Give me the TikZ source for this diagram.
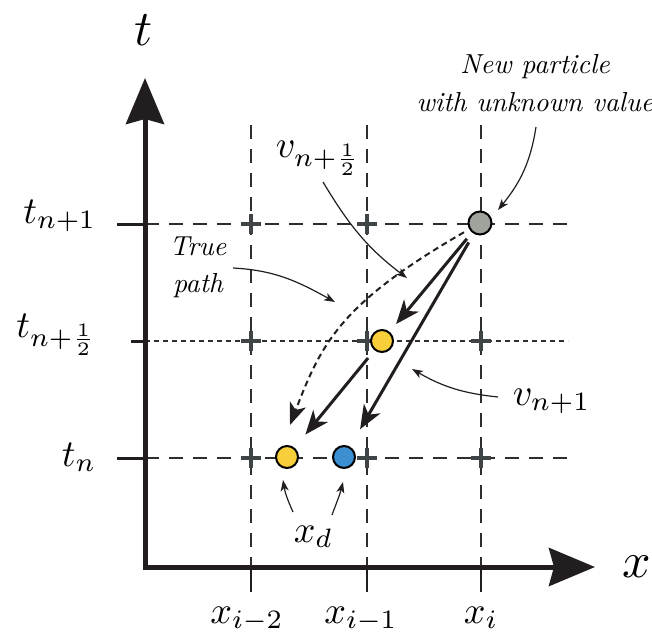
\documentclass[tikz,border=0pt]{standalone}
\usetikzlibrary{arrows.meta}
\definecolor{inkc}{HTML}{221E1F}
\definecolor{gridc}{HTML}{2E2E2E}
\definecolor{crossc}{HTML}{3F4447}
\definecolor{grayp}{HTML}{A0A39B}
\definecolor{yellowp}{HTML}{F8CE3A}
\definecolor{bluep}{HTML}{3C8FD0}
\tikzset{
  gridlong/.style={gridc, line width=1.3pt, dash pattern=on 14pt off 10pt},
  gridshort/.style={gridc, line width=1.3pt, dash pattern=on 5pt off 4pt},
  axisline/.style={inkc, line width=5pt, line join=miter,
    {Stealth[length=46pt,width=38pt,inset=5pt]}-{Stealth[length=46pt,width=38pt,inset=5pt]}},
  tickline/.style={inkc, line width=3pt},
  xtickline/.style={inkc, line width=2.5pt},
  crossmark/.style={crossc, line width=4.3pt},
  particle/.style={circle, draw=black, line width=2pt, minimum size=22pt, inner sep=0pt},
  bigarrow/.style={inkc, line width=3pt, -{Stealth[length=24pt,width=19pt,inset=7pt]}},
  patharrow/.style={inkc, line width=2pt, dash pattern=on 6pt off 4pt, -{Stealth[length=22pt,width=17pt,inset=6pt]}},
  notearrow/.style={inkc, line width=1.2pt, -{Stealth[length=11pt,width=8pt,inset=3pt]}},
  mathlabel/.style={inner sep=0pt, scale=3.8},
  axislabel/.style={inner sep=0pt, scale=5},
  notelabel/.style={font=\itshape, align=center, inner sep=0pt, scale=2.75},
}
\begin{document}
\begin{tikzpicture}[x=1pt,y=-1pt]
\useasboundingbox (0,0) rectangle (652,633);
% grid
\foreach \x in {251,367,481} \draw[gridlong] (\x,125) -- (\x,567);
\draw[gridlong] (145,224) -- (568,224);
\draw[gridshort] (145,341) -- (568,341);
\draw[gridlong] (145,458) -- (568,458);
% crosses
\foreach \x in {251,367,481} \foreach \y in {224,341,458}
  \draw[crossmark] ({\x-10},\y) -- ({\x+10},\y) (\x,{\y-10}) -- (\x,{\y+10});
% ticks
\draw[tickline] (117,224) -- (145,224);
\draw[tickline] (131,341) -- (145,341);
\draw[tickline] (117,458) -- (145,458);
\foreach \x in {251,367,481} \draw[xtickline] (\x,567) -- (\x,592);
% axes
\draw[axisline] (145,78) -- (145,567) -- (595,567);
\node[axislabel] (tlab) at (144,30) {$t$};
\node[axislabel] (xlab) at (637,567) {$x$};
% tick labels
\node[mathlabel, anchor=base east] (ltn1) at (97,223) {$t_{n+1}$};
\node[mathlabel, anchor=base east] (ltnh) at (97,337) {$t_{n+\frac{1}{2}}$};
\node[mathlabel, anchor=base east] (ltn) at (97,466) {$t_n$};
\node[mathlabel, anchor=base] (lxa) at (247,623) {$x_{i-2}$};
\node[mathlabel, anchor=base] (lxb) at (361,623) {$x_{i-1}$};
\node[mathlabel, anchor=base] (lxc) at (481,623) {$x_i$};
% particles
\node[particle, fill=grayp, minimum size=23pt] (gray) at (480,223) {};
\node[particle, fill=yellowp] (ymid) at (382,341) {};
\node[particle, fill=yellowp] (ybot) at (287,457) {};
\node[particle, fill=bluep] (blue) at (344,457) {};
% motion arrows
\coordinate (pathE) at (290,425);
\draw[patharrow, shorten <=6pt] (gray) to[out=210,in=69,out looseness=1.43,in looseness=0.85] (pathE);
\draw[bigarrow, shorten <=8pt, shorten >=10pt] (gray) -- (ymid);
\draw[bigarrow, shorten <=10pt, shorten >=20pt] (gray) -- (blue);
\draw[bigarrow, shorten <=10pt, shorten >=17pt] (ymid) -- (ybot);
% labels
\node[notelabel, anchor=north] (np) at (535,54) {New particle\\[1.7pt]with unknown value};
\node[notelabel, anchor=north] (tp) at (198,236) {True\\[1.7pt]path};
\node[mathlabel, anchor=base west] (vh) at (275,157) {$v_{n+\frac{1}{2}}$};
\node[mathlabel, anchor=base west] (v1) at (512,405) {$v_{n+1}$};
\node[mathlabel, anchor=base west] (xd) at (293,542) {$x_d$};
% annotation arrows
\coordinate (npS) at (536,127); \coordinate (npE) at (498,210);
\coordinate (vhS) at (323,182); \coordinate (vhE) at (407,278);
\coordinate (tpS) at (233,268); \coordinate (tpE) at (335,302);
\coordinate (v1S) at (498,397); \coordinate (v1E) at (412,369);
\coordinate (xdLS) at (293,512); \coordinate (xdLE) at (283,480);
\coordinate (xdRS) at (332,515); \coordinate (xdRE) at (343,482);
\draw[notearrow] (npS) to[out=261,in=51] (npE);
\draw[notearrow] (vhS) to[out=301,in=143] (vhE);
\draw[notearrow] (tpS) to[out=-3,in=151] (tpE);
\draw[notearrow] (v1S) to[out=174,in=-30] (v1E);
\draw[notearrow] (xdLS) to[out=114,in=-81] (xdLE);
\draw[notearrow] (xdRS) to[out=70,in=-104] (xdRE);
\end{tikzpicture}
\end{document}
